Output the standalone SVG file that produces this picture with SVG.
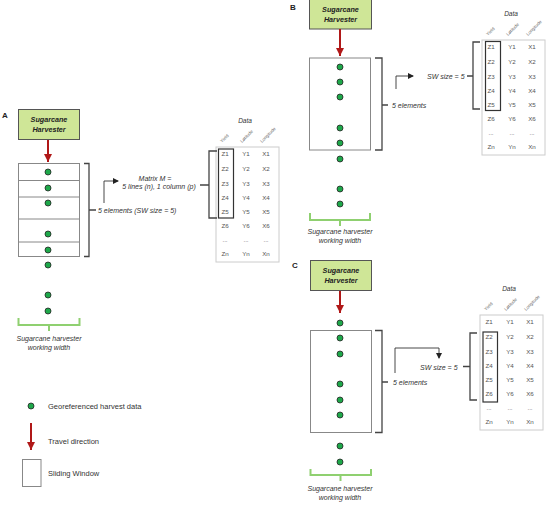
<svg xmlns="http://www.w3.org/2000/svg" width="550" height="506" viewBox="0 0 550 506">
<defs>
<style>
text{font-family:"Liberation Sans",Arial,sans-serif;}
.lbl{font-size:8px;font-weight:bold;fill:#222;}
.hv{fill:#cfe697;stroke:#555;stroke-width:1;}
.hvt{font-size:7.2px;font-weight:bold;font-style:italic;fill:#222;text-anchor:middle;}
.sw{fill:#fff;stroke:#888;stroke-width:1;}
.dot{fill:#1ea84a;stroke:#222;stroke-width:0.8;}
.red{stroke:#b01818;stroke-width:2;fill:none;}
.brk{fill:none;stroke:#444;stroke-width:1.3;}
.gb{fill:none;stroke:#8fd070;stroke-width:2;}
.it{font-size:7px;font-style:italic;fill:#333;}
.itc{font-size:7px;font-style:italic;fill:#333;text-anchor:middle;}
.tb{fill:#fff;stroke:#ccc;stroke-width:1;}
.tv{font-size:6.2px;fill:#555;text-anchor:middle;}
.th{font-size:4.5px;fill:#666;}
.dt{font-size:6.5px;font-style:italic;fill:#333;text-anchor:middle;}
.hl{fill:none;stroke:#333;stroke-width:1.2;}
.con{fill:none;stroke:#333;stroke-width:0.9;}
.leg{font-size:7.5px;fill:#333;}
</style>
<marker id="ra" markerUnits="userSpaceOnUse" markerWidth="8" markerHeight="8" refX="8" refY="4" orient="auto" viewBox="0 0 8 8">
<path d="M0,0 L8,4 L0,8 Z" fill="#b01818"/>
</marker>
<marker id="ka" markerUnits="userSpaceOnUse" markerWidth="6" markerHeight="6" refX="5" refY="3" orient="auto" viewBox="0 0 6 6">
<path d="M0,0 L6,3 L0,6 Z" fill="#222"/>
</marker>
<g id="table">
<rect class="tb" x="0" y="0" width="63" height="115"/>
<text class="th" transform="translate(6,-4) rotate(-45)">Yield</text>
<text class="th" transform="translate(26,-4) rotate(-45)">Latitude</text>
<text class="th" transform="translate(46,-4) rotate(-45)">Longitude</text>
<text class="dt" x="29" y="-24.5">Data</text>
<text class="tv" x="9" y="9">Z1</text><text class="tv" x="30" y="9">Y1</text><text class="tv" x="50" y="9">X1</text>
<text class="tv" x="9" y="24">Z2</text><text class="tv" x="30" y="24">Y2</text><text class="tv" x="50" y="24">X2</text>
<text class="tv" x="9" y="38.5">Z3</text><text class="tv" x="30" y="38.5">Y3</text><text class="tv" x="50" y="38.5">X3</text>
<text class="tv" x="9" y="53">Z4</text><text class="tv" x="30" y="53">Y4</text><text class="tv" x="50" y="53">X4</text>
<text class="tv" x="9" y="67">Z5</text><text class="tv" x="30" y="67">Y5</text><text class="tv" x="50" y="67">X5</text>
<text class="tv" x="9" y="81">Z6</text><text class="tv" x="30" y="81">Y6</text><text class="tv" x="50" y="81">X6</text>
<text class="tv" x="9" y="95">...</text><text class="tv" x="30" y="95">...</text><text class="tv" x="50" y="95">...</text>
<text class="tv" x="9" y="109">Zn</text><text class="tv" x="30" y="109">Yn</text><text class="tv" x="50" y="109">Xn</text>
</g>
</defs>
<rect width="550" height="506" fill="#fff"/>

<!-- Panel labels -->
<text class="lbl" x="2" y="118">A</text>
<text class="lbl" x="290" y="10">B</text>
<text class="lbl" x="292" y="268">C</text>

<!-- Panel A -->
<g id="harvesterA">
<rect class="hv" x="18.5" y="109.5" width="61" height="30"/>
<text class="hvt" x="49" y="122">Sugarcane</text>
<text class="hvt" x="49" y="131.5">Harvester</text>
</g>
<g id="swA">
<rect class="sw" x="18.5" y="163.5" width="61" height="93"/>
<line class="sw" x1="18.5" y1="180.5" x2="79.5" y2="180.5"/>
<line class="sw" x1="18.5" y1="197" x2="79.5" y2="197"/>
<line class="sw" x1="18.5" y1="219" x2="79.5" y2="219"/>
<line class="sw" x1="18.5" y1="242" x2="79.5" y2="242"/>
</g>
<g id="dotsA">
<circle class="dot" cx="48" cy="172" r="3"/><circle class="dot" cx="48" cy="188" r="3"/><circle class="dot" cx="48" cy="203" r="3"/><circle class="dot" cx="48" cy="234" r="3"/><circle class="dot" cx="48" cy="250" r="3"/><circle class="dot" cx="48" cy="265" r="3"/><circle class="dot" cx="48" cy="295" r="3"/><circle class="dot" cx="48" cy="311" r="3"/>
</g>
<g id="widthA">
<path class="gb" d="M18.5,318 V325 H79.5 V318 M49,325 V331"/>
<text class="itc" x="49" y="341">Sugarcane harvester</text>
<text class="itc" x="49" y="350">working width</text>
</g>
<g id="tableA">
<use href="#table" x="216" y="147"/>
<rect class="hl" x="218.5" y="149" width="15" height="69"/>
</g>
<g id="labelsA">
<text class="it" x="98" y="213">5 elements (SW size = 5)</text>
<text class="itc" x="155" y="180.5">Matrix M =</text>
<text class="itc" x="159" y="189">5 lines (n), 1 column (p)</text>
</g>

<!-- Panel B -->
<g id="harvesterB">
<rect class="hv" x="309.5" y="-2" width="62" height="31"/>
<text class="hvt" x="340.5" y="12">Sugarcane</text>
<text class="hvt" x="340.5" y="22">Harvester</text>
</g>
<g id="swB"><rect class="sw" x="309.5" y="58" width="61" height="92"/></g>
<g id="dotsB">
<circle class="dot" cx="340" cy="67" r="3"/><circle class="dot" cx="340" cy="82" r="3"/><circle class="dot" cx="340" cy="97" r="3"/><circle class="dot" cx="340" cy="128" r="3"/><circle class="dot" cx="340" cy="143" r="3"/><circle class="dot" cx="340" cy="159" r="3"/><circle class="dot" cx="340" cy="189" r="3"/><circle class="dot" cx="340" cy="204" r="3"/>
</g>
<g id="widthB">
<path class="gb" d="M310,213 V220 H370 V213 M340,220 V226"/>
<text class="itc" x="340" y="233.5">Sugarcane harvester</text>
<text class="itc" x="340" y="242.5">working width</text>
</g>
<g id="tableB">
<use href="#table" x="482" y="40"/>
<rect class="hl" x="485.5" y="41.5" width="15" height="69"/>
</g>
<g id="labelsB">
<text class="it" x="392" y="108">5 elements</text>
<text class="it" x="427" y="78.5">SW size = 5</text>
</g>

<!-- Panel C -->
<g id="harvesterC">
<rect class="hv" x="310.5" y="260.5" width="61" height="30"/>
<text class="hvt" x="341" y="273">Sugarcane</text>
<text class="hvt" x="341" y="282.5">Harvester</text>
</g>
<g id="swC"><rect class="sw" x="310.5" y="330.5" width="61" height="102"/></g>
<g id="dotsC">
<circle class="dot" cx="340" cy="323" r="3"/><circle class="dot" cx="340" cy="338" r="3"/><circle class="dot" cx="340" cy="354" r="3"/><circle class="dot" cx="340" cy="384" r="3"/><circle class="dot" cx="340" cy="400" r="3"/><circle class="dot" cx="340" cy="415" r="3"/><circle class="dot" cx="340" cy="446" r="3"/><circle class="dot" cx="340" cy="462" r="3"/>
</g>
<g id="widthC">
<path class="gb" d="M310.5,469 V475 H371 V469 M340.5,475 V481"/>
<text class="itc" x="340" y="491">Sugarcane harvester</text>
<text class="itc" x="340" y="500">working width</text>
</g>
<g id="tableC">
<use href="#table" x="480" y="315"/>
<rect class="hl" x="483" y="332" width="14.5" height="70"/>
</g>
<g id="labelsC">
<text class="it" x="393" y="385">5 elements</text>
<text class="it" x="420" y="369.5">SW size = 5</text>
</g>

<!-- Legend -->
<g id="legend">
<circle class="dot" cx="31" cy="406" r="3"/>
<text class="leg" x="48" y="408.5">Georeferenced harvest data</text>
<line class="red" x1="31" y1="423" x2="31" y2="450" marker-end="url(#ra)"/>
<text class="leg" x="48" y="443.5">Travel direction</text>
<rect class="sw" x="22.5" y="459.5" width="18.5" height="27"/>
<text class="leg" x="48" y="476">Sliding Window</text>
</g>

<!-- Connectors -->
<g id="connectors">
<line class="red" x1="48" y1="140" x2="48" y2="162" marker-end="url(#ra)"/>
<line class="red" x1="340" y1="29" x2="340" y2="56" marker-end="url(#ra)"/>
<line class="red" x1="340" y1="291" x2="340" y2="313" marker-end="url(#ra)"/>
<!-- brackets A -->
<path class="brk" d="M84,163.5 H89 V256.5 H84 M89,210 H96"/>
<path class="brk" d="M217,151 H209 V218 H217 M209,185 H200"/>
<polyline class="con" points="104,203 104,181 118,181" marker-end="url(#ka)"/>
<!-- brackets B -->
<path class="brk" d="M375,58 H382 V150 H375 M382,105 H388"/>
<path class="brk" d="M480,42 H473 V109 H480 M473,76 H467"/>
<polyline class="con" points="396,89 396,76 413,76" marker-end="url(#ka)"/>
<!-- brackets C -->
<path class="brk" d="M375,330.5 H382 V432.5 H375 M382,382 H388"/>
<path class="brk" d="M477,333 H470 V400 H477 M470,366.5 H463"/>
<polyline class="con" points="395,373 395,348 439,348 439,358" marker-end="url(#ka)"/>
</g>
</svg>
